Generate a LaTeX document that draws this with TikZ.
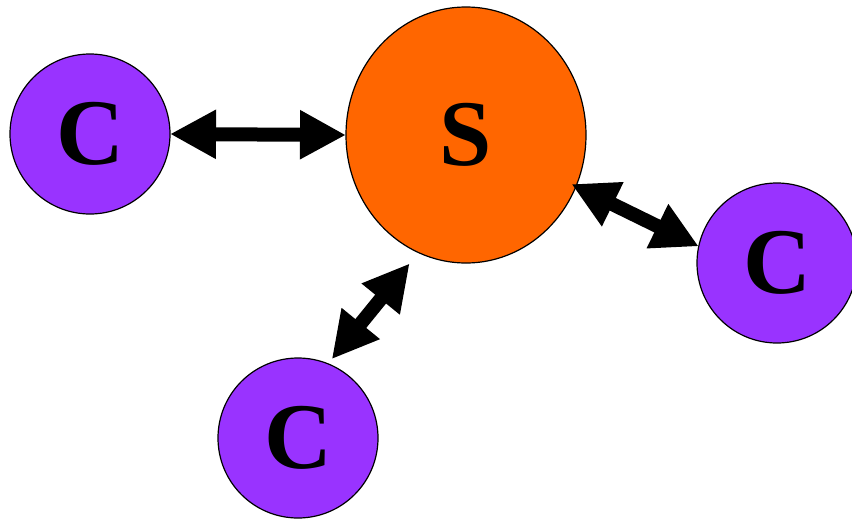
\documentclass[tikz,border=0pt]{standalone}
\usepackage{fontspec}
\setmainfont{Liberation Serif}
\usetikzlibrary{shapes.geometric,arrows.meta}
\definecolor{cpurple}{HTML}{9933FF}
\definecolor{sorange}{HTML}{FF6600}
\tikzset{
  client/.style={circle, draw=black, line width=1.2pt, fill=cpurple, minimum size=160pt, inner sep=0pt, outer sep=0pt, font=\fontsize{94}{94}\selectfont\bfseries},
  server/.style={ellipse, draw=black, line width=1.2pt, fill=sorange, minimum width=240pt, minimum height=256pt, inner sep=0pt, outer sep=0pt, font=\fontsize{94}{94}\selectfont\bfseries},
  link/.style={line width=14pt, {Triangle[length=46pt,width=46pt]}-{Triangle[length=46pt,width=46pt]}}
}
\begin{document}
\begin{tikzpicture}[x=1pt,y=-1pt]
\useasboundingbox (0,0) rectangle (852,520);
\node[server] (s) at (466,135) {S};
\node[client] (c1) at (90,134) {C};
\node[client] (c2) at (777,263) {C};
\node[client] (c3) at (298,438) {C};
\draw[link] (c1.east) -- (s.west);
\draw[link, shorten <=-5pt] (s.-25) -- (c2.168);
\draw[link, shorten <=14pt, shorten >=6pt] (s.-112) -- (c3.68);
\end{tikzpicture}
\end{document}
